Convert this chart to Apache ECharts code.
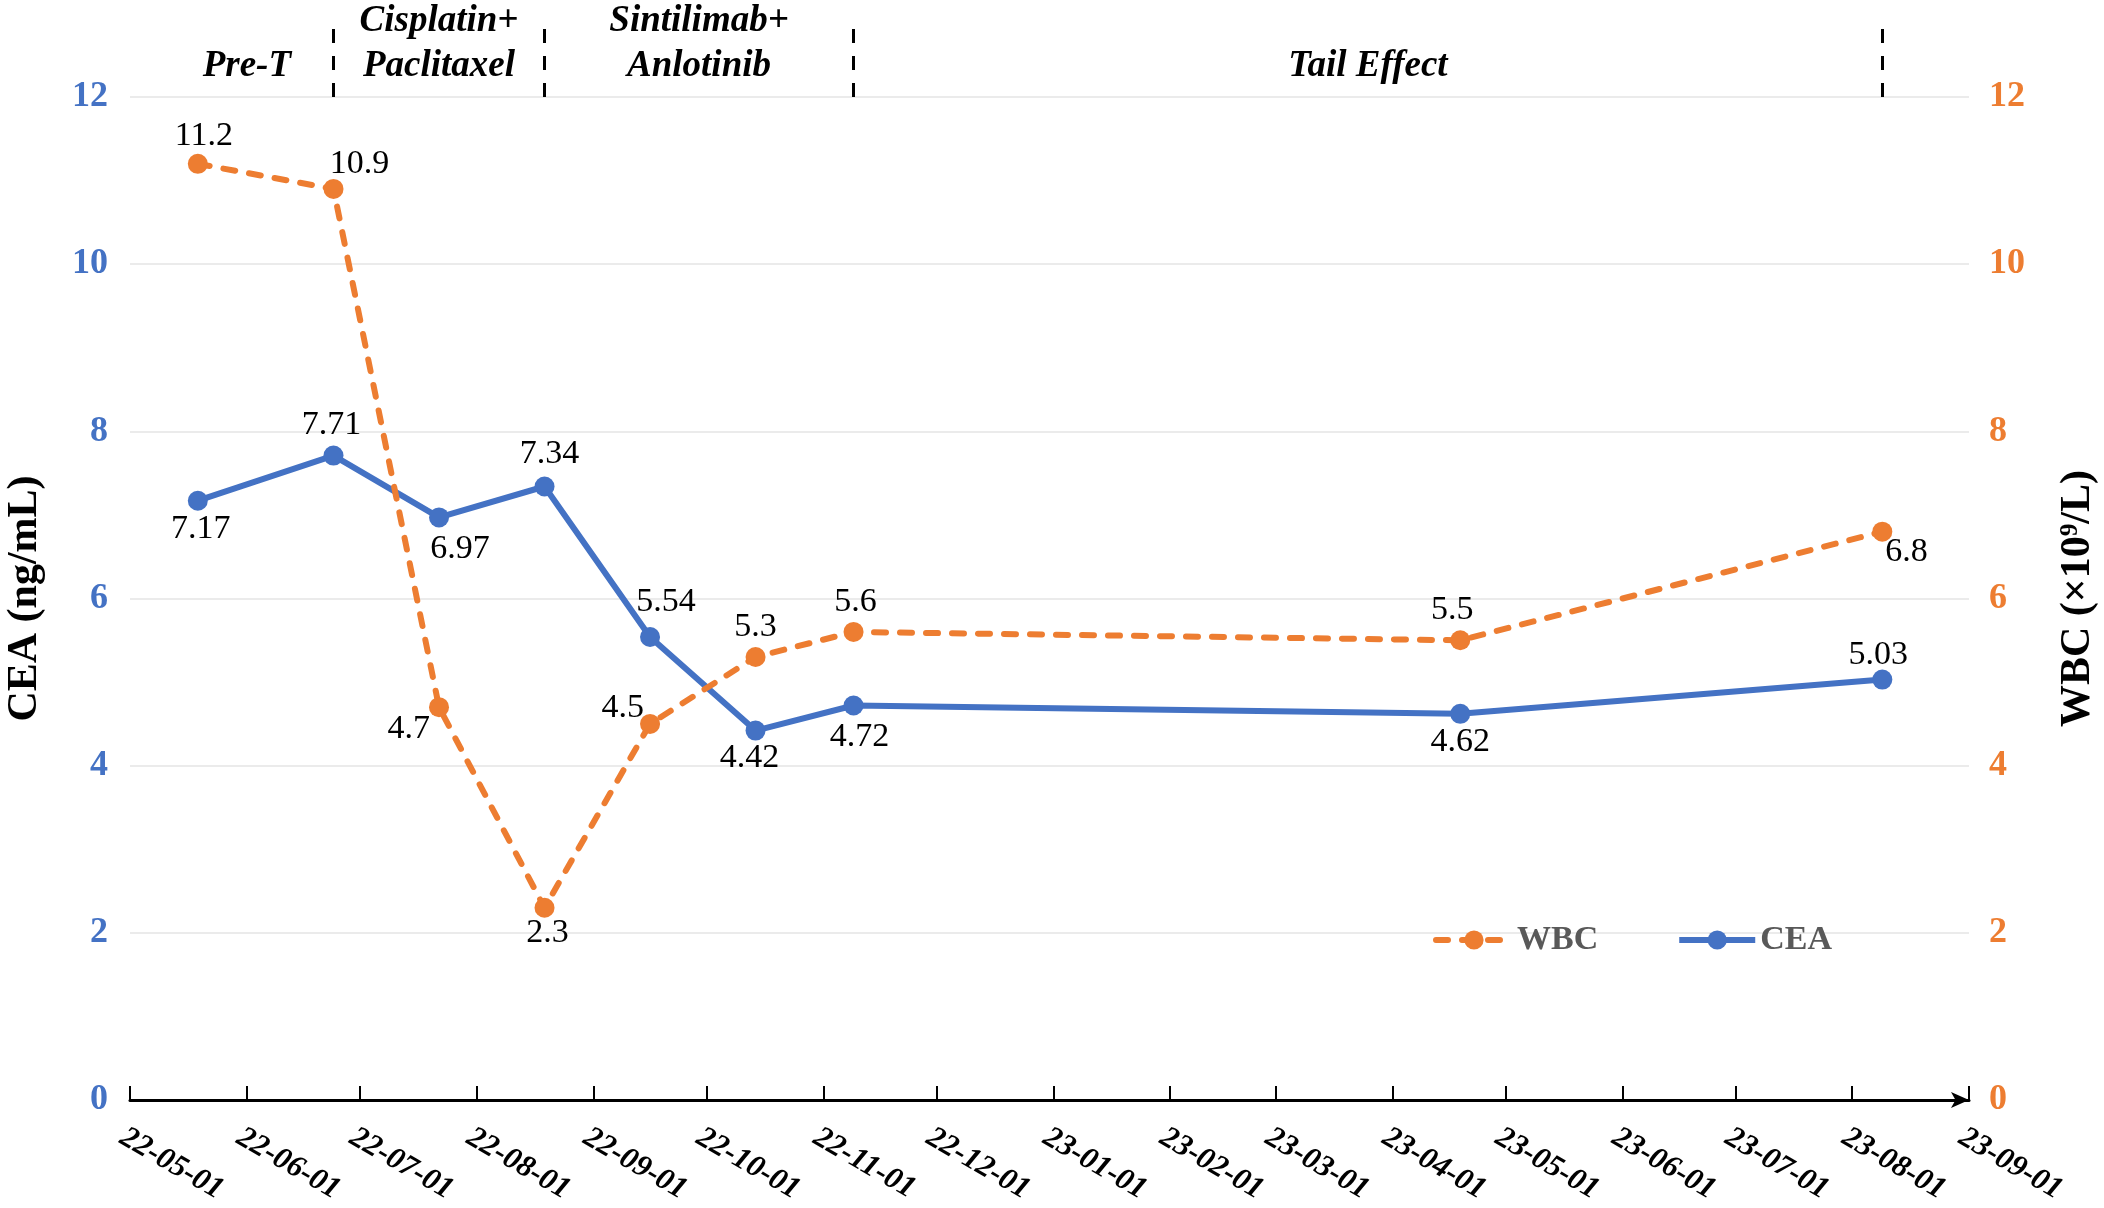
<!DOCTYPE html>
<html>
<head>
<meta charset="utf-8">
<script src="https://cdn.jsdelivr.net/npm/echarts@6/dist/echarts.min.js"></script>
<style>
  html, body { margin: 0; padding: 0; background: #fff; }
  #main { width: 2104px; height: 1208px; }
</style>
</head>
<body>
<div id="main"></div>
<script>
// sample dates and values
var sampleDates = ['2022-05-19', '2022-06-24', '2022-07-22', '2022-08-19', '2022-09-16',
                   '2022-10-14', '2022-11-09', '2023-04-19', '2023-08-09'];
var ceaValues = [7.17, 7.71, 6.97, 7.34, 5.54, 4.42, 4.72, 4.62, 5.03];
var wbcValues = [11.2, 10.9, 4.7, 2.3, 4.5, 5.3, 5.6, 5.5, 6.8];

var monthTicks = ['2022-05-01', '2022-06-01', '2022-07-01', '2022-08-01', '2022-09-01',
                  '2022-10-01', '2022-11-01', '2022-12-01', '2023-01-01', '2023-02-01',
                  '2023-03-01', '2023-04-01', '2023-05-01', '2023-06-01', '2023-07-01',
                  '2023-08-01', '2023-09-01'];
var yTicks = [0, 2, 4, 6, 8, 10, 12];

// treatment phases (start, end, name)
var phaseNames = ['Pre-T', 'Cisplatin+\nPaclitaxel', 'Sintilimab+\nAnlotinib', 'Tail Effect'];
var phaseStarts = ['2022-05-09', '2022-06-24', '2022-08-19', '2022-11-09'];
var phaseEnds = ['2022-06-24', '2022-08-19', '2022-11-09', '2023-08-09'];
var phaseBounds = ['2022-06-24', '2022-08-19', '2022-11-09', '2023-08-09'];

// label placement per point
var ceaLabelPos = ['bottom', 'top', 'bottom', 'top', 'top', 'bottom', 'bottom', 'bottom', 'top'];
var ceaLabelOff = [[3, -4], [-2, 2], [21, 0], [5, 0], [16, -3], [-6, -4], [6, 0], [0, -4], [-4, 8]];
var wbcLabelPos = ['top', 'top', 'left', 'bottom', 'left', 'top', 'top', 'top', 'right'];
var wbcLabelOff = [[6, 4], [26, 7], [6, 22], [3, -7], [9, -16], [0, 2], [2, 2], [-8, 2], [-12, 20]];

var SERIF = "'Liberation Serif', 'Times New Roman', serif";
var BLUE = '#4472C4', ORANGE = '#ED7D31';

function toTime(s) {
    var p = s.split('-');
    return new Date(+p[0], +p[1] - 1, +p[2]).getTime();
}

var tMin = toTime(monthTicks[0]);
var tMax = toTime(monthTicks[monthTicks.length - 1]);
var tickTimes = monthTicks.map(toTime);

function buildData(values, pos, off) {
    return values.map(function (v, i) {
        return {
            value: [toTime(sampleDates[i]), v],
            label: { position: pos[i], offset: off[i] }
        };
    });
}

var myChart = echarts.init(document.getElementById('main'));

var option = {
    backgroundColor: '#ffffff',
    animation: false,
    grid: [
        { left: 130, right: 135, top: 97, bottom: 108, outerBoundsMode: 'none', containLabel: false },
        { left: 130, right: 135, top: 20, height: 77, outerBoundsMode: 'none', containLabel: false }
    ],
    legend: {
        data: ['WBC', 'CEA'],
        left: 1428,
        top: 918,
        itemWidth: 76,
        itemHeight: 24,
        itemGap: 78,
        lineStyle: { width: 6 },
        textStyle: { fontFamily: SERIF, fontSize: 34, fontWeight: 'bold', color: '#595959' }
    },
    xAxis: [
        {
            type: 'value',
            gridIndex: 0,
            min: tMin,
            max: tMax,
            axisLine: {
                show: true,
                symbol: ['none', 'arrow'],
                symbolSize: [12, 18],
                lineStyle: { color: '#000', width: 3 }
            },
            axisTick: {
                show: true,
                inside: true,
                length: 14,
                customValues: tickTimes,
                lineStyle: { color: '#000', width: 2 }
            },
            axisLabel: {
                customValues: tickTimes,
                rotate: -30,
                margin: 22,
                align: 'left',
                verticalAlign: 'top',
                fontFamily: SERIF,
                fontSize: 31,
                fontWeight: 'bold',
                fontStyle: 'italic',
                color: '#000',
                showMinLabel: true,
                showMaxLabel: true,
                formatter: function (v) {
                    var i = tickTimes.indexOf(v);
                    return i >= 0 ? monthTicks[i].slice(2) : '';
                }
            },
            splitLine: { show: false }
        },
        {
            type: 'value',
            gridIndex: 1,
            min: tMin,
            max: tMax,
            show: false
        }
    ],
    yAxis: [
        {
            type: 'value',
            gridIndex: 0,
            min: yTicks[0],
            max: yTicks[yTicks.length - 1],
            interval: 2,
            name: 'CEA (ng/mL)',
            nameLocation: 'middle',
            nameRotate: 90,
            nameGap: 84,
            nameTextStyle: { fontFamily: SERIF, fontSize: 42, fontWeight: 'bold', color: '#000' },
            axisLine: { show: false },
            axisTick: { show: false },
            axisLabel: { margin: 22, fontFamily: SERIF, fontSize: 36, fontWeight: 'bold', color: BLUE },
            splitLine: { lineStyle: { color: '#EBEBEB', width: 2 } }
        },
        {
            type: 'value',
            gridIndex: 0,
            position: 'right',
            min: yTicks[0],
            max: yTicks[yTicks.length - 1],
            interval: 2,
            name: 'WBC (×10⁹/L)',
            nameLocation: 'middle',
            nameRotate: 90,
            nameGap: 88,
            nameTextStyle: { fontFamily: SERIF, fontSize: 42, fontWeight: 'bold', color: '#000' },
            axisLine: { show: false },
            axisTick: { show: false },
            axisLabel: { margin: 20, fontFamily: SERIF, fontSize: 36, fontWeight: 'bold', color: ORANGE },
            splitLine: { show: false }
        },
        {
            type: 'value',
            gridIndex: 1,
            min: 0,
            max: 1,
            show: false
        }
    ],
    series: [
        {
            name: 'CEA',
            type: 'line',
            xAxisIndex: 0,
            yAxisIndex: 0,
            z: 2,
            data: buildData(ceaValues, ceaLabelPos, ceaLabelOff),
            symbol: 'circle',
            symbolSize: 20,
            itemStyle: { color: BLUE },
            lineStyle: { color: BLUE, width: 6 },
            label: {
                show: true,
                distance: 5,
                fontFamily: SERIF,
                fontSize: 34,
                color: '#000'
            },
            emphasis: { disabled: true }
        },
        {
            name: 'WBC',
            type: 'line',
            xAxisIndex: 0,
            yAxisIndex: 1,
            z: 3,
            data: buildData(wbcValues, wbcLabelPos, wbcLabelOff),
            symbol: 'circle',
            symbolSize: 20,
            itemStyle: { color: ORANGE },
            lineStyle: { color: ORANGE, width: 6, type: [12, 14], cap: 'round' },
            label: {
                show: true,
                distance: 5,
                fontFamily: SERIF,
                fontSize: 34,
                color: '#000'
            },
            emphasis: { disabled: true }
        },
        {
            name: 'phases',
            type: 'line',
            xAxisIndex: 1,
            yAxisIndex: 2,
            data: [],
            silent: true,
            markLine: {
                silent: true,
                symbol: ['none', 'none'],
                label: { show: false },
                lineStyle: { color: '#000', width: 3, type: [14, 13] },
                data: phaseBounds.map(function (d) { return { xAxis: toTime(d) }; })
            },
            markArea: {
                silent: true,
                itemStyle: { color: 'rgba(0,0,0,0)' },
                label: {
                    show: true,
                    position: 'insideBottom',
                    distance: 8,
                    fontFamily: SERIF,
                    fontSize: 37,
                    fontWeight: 'bold',
                    fontStyle: 'italic',
                    color: '#000',
                    lineHeight: 45,
                    align: 'center'
                },
                data: phaseNames.map(function (n, i) {
                    return [
                        { name: n, xAxis: toTime(phaseStarts[i]) },
                        { xAxis: toTime(phaseEnds[i]) }
                    ];
                })
            }
        }
    ]
};

myChart.setOption(option);
</script>
</body>
</html>
